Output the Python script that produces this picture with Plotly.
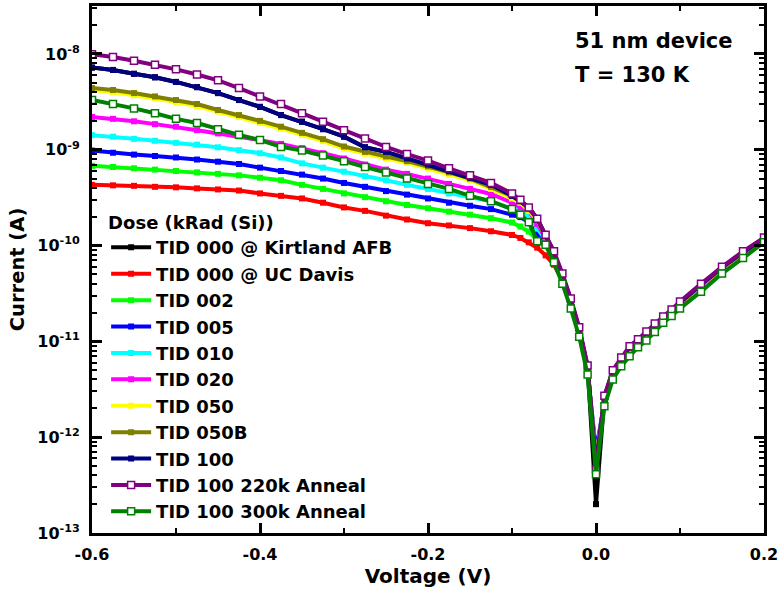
import plotly.graph_objects as go

voltage = [-0.6, -0.575, -0.55, -0.525, -0.5, -0.475, -0.45, -0.425, -0.4, -0.375,
           -0.35, -0.325, -0.3, -0.275, -0.25, -0.225, -0.2, -0.175, -0.15, -0.125,
           -0.1, -0.09, -0.08, -0.07, -0.06, -0.05, -0.04, -0.03, -0.02, -0.01,
           0.0, 0.01, 0.02, 0.03, 0.04, 0.05, 0.06, 0.07, 0.08, 0.09, 0.1,
           0.125, 0.15, 0.175, 0.2]

tid000_kirtland = [7.2e-9, 6.8e-9, 6.2e-9, 5.7e-9, 5.1e-9, 4.5e-9, 3.9e-9, 3.3e-9, 2.8e-9, 2.3e-9,
                   1.96e-9, 1.64e-9, 1.37e-9, 1.06e-9, 9.5e-10, 8.1e-10, 7.0e-10, 6.0e-10, 5.1e-10, 4.3e-10,
                   3.3e-10, 2.9e-10, 2.5e-10, 1.9e-10, 1.28e-10, 8.4e-11, 4.9e-11, 2.7e-11, 1.35e-11, 5.4e-12,
                   2.0e-13, 2.6e-12, 4.9e-12, 6.6e-12, 8.7e-12, 1.03e-11, 1.24e-11, 1.5e-11, 1.78e-11, 2.1e-11, 2.55e-11,
                   3.9e-11, 5.9e-11, 8.5e-11, 1.19e-10]
tid000_ucdavis = [4.3e-10, 4.25e-10, 4.2e-10, 4.1e-10, 4.05e-10, 3.95e-10, 3.85e-10, 3.75e-10, 3.5e-10, 3.3e-10,
                  3.1e-10, 2.8e-10, 2.5e-10, 2.3e-10, 2.05e-10, 1.87e-10, 1.71e-10, 1.62e-10, 1.52e-10, 1.41e-10,
                  1.29e-10, 1.2e-10, 1.08e-10, 9.5e-11, 7.9e-11, 6.3e-11, 4.3e-11, 2.5e-11, 1.19e-11, 4.75e-12,
                  6.0e-13, 2.3e-12, 4.3e-12, 5.9e-12, 7.6e-12, 9.2e-12, 1.1e-11, 1.35e-11, 1.63e-11, 1.92e-11, 2.3e-11,
                  3.5e-11, 5.3e-11, 7.7e-11, 1.1e-10]
tid002 = [6.8e-10, 6.6e-10, 6.4e-10, 6.2e-10, 6.0e-10, 5.8e-10, 5.6e-10, 5.4e-10, 5.1e-10, 4.8e-10,
          4.3e-10, 3.9e-10, 3.5e-10, 3.2e-10, 2.9e-10, 2.65e-10, 2.45e-10, 2.26e-10, 2.1e-10, 1.93e-10,
          1.74e-10, 1.58e-10, 1.4e-10, 1.13e-10, 1.0e-10, 7.0e-11, 4.3e-11, 2.4e-11, 1.2e-11, 4.8e-12,
          6.5e-13, 2.3e-12, 4.4e-12, 6.0e-12, 7.8e-12, 9.4e-12, 1.13e-11, 1.38e-11, 1.66e-11, 1.96e-11, 2.35e-11,
          3.6e-11, 5.45e-11, 7.9e-11, 1.12e-10]
tid005 = [9.8e-10, 9.3e-10, 8.9e-10, 8.6e-10, 8.3e-10, 7.9e-10, 7.5e-10, 7.1e-10, 6.5e-10, 6.0e-10,
          5.5e-10, 5.0e-10, 4.5e-10, 4.1e-10, 3.7e-10, 3.4e-10, 3.1e-10, 2.8e-10, 2.6e-10, 2.4e-10,
          2.1e-10, 1.98e-10, 1.75e-10, 1.33e-10, 1.1e-10, 7.2e-11, 4.4e-11, 2.45e-11, 1.22e-11, 4.9e-12,
          7.0e-13, 2.35e-12, 4.5e-12, 6.1e-12, 8.0e-12, 9.6e-12, 1.15e-11, 1.4e-11, 1.68e-11, 1.98e-11, 2.38e-11,
          3.65e-11, 5.5e-11, 8.0e-11, 1.13e-10]
tid010 = [1.42e-9, 1.37e-9, 1.30e-9, 1.24e-9, 1.18e-9, 1.13e-9, 1.06e-9, 9.9e-10, 9.2e-10, 8.3e-10,
          7.2e-10, 6.5e-10, 5.9e-10, 5.3e-10, 4.8e-10, 4.3e-10, 3.9e-10, 3.5e-10, 3.2e-10, 2.9e-10,
          2.4e-10, 2.26e-10, 2.0e-10, 1.5e-10, 1.15e-10, 7.5e-11, 4.5e-11, 2.5e-11, 1.25e-11, 5.0e-12,
          6.0e-13, 2.4e-12, 4.6e-12, 6.2e-12, 8.1e-12, 9.7e-12, 1.17e-11, 1.42e-11, 1.7e-11, 2.0e-11, 2.4e-11,
          3.7e-11, 5.6e-11, 8.1e-11, 1.14e-10]
tid020 = [2.2e-9, 2.1e-9, 1.98e-9, 1.85e-9, 1.74e-9, 1.6e-9, 1.48e-9, 1.38e-9, 1.26e-9, 1.15e-9,
          1.04e-9, 9.2e-10, 8.1e-10, 7.0e-10, 6.2e-10, 5.6e-10, 5.0e-10, 4.4e-10, 3.9e-10, 3.45e-10,
          2.8e-10, 2.5e-10, 2.3e-10, 1.68e-10, 1.2e-10, 7.8e-11, 4.6e-11, 2.55e-11, 1.28e-11, 5.1e-12,
          6.0e-13, 2.5e-12, 4.7e-12, 6.4e-12, 8.3e-12, 9.9e-12, 1.2e-11, 1.45e-11, 1.72e-11, 2.03e-11, 2.45e-11,
          3.75e-11, 5.7e-11, 8.2e-11, 1.15e-10]
tid050 = [4.2e-9, 4.0e-9, 3.7e-9, 3.45e-9, 3.15e-9, 2.85e-9, 2.5e-9, 2.2e-9, 1.9e-9, 1.66e-9,
          1.43e-9, 1.23e-9, 1.03e-9, 9.1e-10, 8.1e-10, 7.3e-10, 6.4e-10, 5.5e-10, 4.8e-10, 3.9e-10,
          3.1e-10, 2.8e-10, 2.3e-10, 1.85e-10, 1.25e-10, 8.0e-11, 4.7e-11, 2.6e-11, 1.3e-11, 5.2e-12,
          5.5e-13, 2.45e-12, 4.7e-12, 6.4e-12, 8.4e-12, 1.0e-11, 1.2e-11, 1.46e-11, 1.73e-11, 2.05e-11, 2.48e-11,
          3.8e-11, 5.75e-11, 8.3e-11, 1.16e-10]
tid050b = [4.4e-9, 4.2e-9, 3.9e-9, 3.6e-9, 3.3e-9, 3.0e-9, 2.6e-9, 2.3e-9, 2.0e-9, 1.74e-9,
           1.5e-9, 1.29e-9, 1.08e-9, 9.5e-10, 8.5e-10, 7.6e-10, 6.7e-10, 5.8e-10, 5.0e-10, 4.1e-10,
           3.3e-10, 2.9e-10, 2.4e-10, 1.9e-10, 1.27e-10, 8.2e-11, 4.8e-11, 2.65e-11, 1.32e-11, 5.3e-12,
           5.5e-13, 2.5e-12, 4.8e-12, 6.5e-12, 8.5e-12, 1.01e-11, 1.22e-11, 1.48e-11, 1.75e-11, 2.07e-11, 2.5e-11,
           3.85e-11, 5.8e-11, 8.4e-11, 1.17e-10]
tid100 = [7.2e-9, 6.8e-9, 6.2e-9, 5.7e-9, 5.1e-9, 4.5e-9, 3.9e-9, 3.3e-9, 2.8e-9, 2.3e-9,
          1.96e-9, 1.64e-9, 1.37e-9, 1.06e-9, 9.5e-10, 8.1e-10, 7.0e-10, 6.0e-10, 5.1e-10, 4.3e-10,
          3.3e-10, 2.9e-10, 2.5e-10, 1.9e-10, 1.28e-10, 8.4e-11, 4.9e-11, 2.7e-11, 1.35e-11, 5.4e-12,
          5.0e-13, 2.6e-12, 4.9e-12, 6.6e-12, 8.7e-12, 1.03e-11, 1.24e-11, 1.5e-11, 1.78e-11, 2.1e-11, 2.55e-11,
          3.9e-11, 5.9e-11, 8.5e-11, 1.19e-10]
tid100_220k = [9.9e-9, 9.3e-9, 8.5e-9, 7.7e-9, 6.9e-9, 6.1e-9, 5.3e-9, 4.4e-9, 3.6e-9, 3.0e-9,
               2.4e-9, 1.96e-9, 1.6e-9, 1.31e-9, 1.07e-9, 9.0e-10, 7.7e-10, 6.4e-10, 5.4e-10, 4.5e-10,
               3.5e-10, 3.0e-10, 2.5e-10, 1.9e-10, 1.3e-10, 8.7e-11, 5.1e-11, 2.8e-11, 1.4e-11, 5.6e-12,
               4.6e-13, 2.7e-12, 5.0e-12, 6.8e-12, 8.9e-12, 1.05e-11, 1.27e-11, 1.54e-11, 1.82e-11, 2.15e-11, 2.6e-11,
               4.0e-11, 6.0e-11, 8.7e-11, 1.21e-10]
tid100_300k = [3.3e-9, 3.0e-9, 2.7e-9, 2.4e-9, 2.1e-9, 1.9e-9, 1.64e-9, 1.43e-9, 1.26e-9, 1.07e-9,
               9.8e-10, 8.7e-10, 7.6e-10, 6.6e-10, 5.8e-10, 5.0e-10, 4.4e-10, 3.9e-10, 3.3e-10, 2.9e-10,
               2.4e-10, 2.1e-10, 1.75e-10, 1.11e-10, 1.02e-10, 6.7e-11, 4.0e-11, 2.2e-11, 1.12e-11, 4.5e-12,
               4.1e-13, 2.1e-12, 4.0e-12, 5.5e-12, 7.0e-12, 8.7e-12, 1.02e-11, 1.25e-11, 1.56e-11, 1.84e-11, 2.2e-11,
               3.3e-11, 5.1e-11, 7.4e-11, 1.08e-10]

series_names = ["TID 000 @ Kirtland AFB", "TID 000 @ UC Davis", "TID 002", "TID 005", "TID 010",
                "TID 020", "TID 050", "TID 050B", "TID 100", "TID 100 220k Anneal", "TID 100 300k Anneal"]
series_values = [tid000_kirtland, tid000_ucdavis, tid002, tid005, tid010, tid020, tid050, tid050b,
                 tid100, tid100_220k, tid100_300k]
series_colors = ["#000000", "#FF0000", "#00FF00", "#0000FF", "#00FFFF", "#FF00FF", "#FFFF00",
                 "#808000", "#000080", "#800080", "#008000"]
series_open = [False] * 9 + [True, True]

x_tick_vals = [-0.6, -0.4, -0.2, 0.0, 0.2]
x_tick_text = ["-0.6", "-0.4", "-0.2", "0.0", "0.2"]
y_tick_vals = [1e-13, 1e-12, 1e-11, 1e-10, 1e-9, 1e-8]
y_tick_text = ["10<sup>-13</sup>", "10<sup>-12</sup>", "10<sup>-11</sup>", "10<sup>-10</sup>",
               "10<sup>-9</sup>", "10<sup>-8</sup>"]

FONT = "DejaVu Sans"
X_RANGE = [-0.6, 0.2]
Y_RANGE = [-13, -7.5]


def bold(s):
    return "<b>" + s + "</b>"


fig = go.Figure()
for name, vals, col, is_open in zip(series_names, series_values, series_colors, series_open):
    if is_open:
        marker = dict(symbol="square", size=7, color="white", line=dict(color=col, width=1.5))
    else:
        marker = dict(symbol="square", size=6, color=col, line=dict(width=0))
    fig.add_trace(go.Scatter(x=voltage, y=vals, name=bold(name), mode="lines+markers",
                             line=dict(color=col, width=4), marker=marker))

axis_common = dict(showline=True, linewidth=3, linecolor="#000000", mirror="allticks",
                   ticks="inside", ticklen=10, tickwidth=2.5, tickcolor="#000000", automargin=False)
minor_common = dict(ticks="inside", ticklen=5, tickwidth=2, tickcolor="#000000")

fig.update_layout(
    width=779, height=595,
    margin=dict(l=92, r=15, t=6, b=62),
    paper_bgcolor="white", plot_bgcolor="white",
    font=dict(family=FONT, size=16, color="black"),
    xaxis=dict(range=X_RANGE, tickvals=x_tick_vals, ticktext=[bold(t) for t in x_tick_text],
               tickfont=dict(size=16, family=FONT, color="black"),
               minor=dict(dtick=0.1, **minor_common),
               title=dict(text=bold("Voltage (V)"), font=dict(size=20, family=FONT, color="black"), standoff=6),
               ticklabelstandoff=5,
               **axis_common),
    yaxis=dict(type="log", range=Y_RANGE, tickvals=y_tick_vals, ticktext=[bold(t) for t in y_tick_text],
               tickfont=dict(size=16, family=FONT, color="black"),
               minor=dict(dtick="D1", **minor_common),
               title=dict(text=bold("Current (A)"), font=dict(size=19.5, family=FONT, color="black"), standoff=8),
               ticklabelstandoff=6,
               **axis_common),
    legend=dict(x=0.021, y=0.621, xanchor="left", yanchor="top",
                bgcolor="rgba(0,0,0,0)", borderwidth=0,
                font=dict(size=18, family=FONT, color="black"),
                itemwidth=40,
                title=dict(text=bold("Dose (kRad (Si))"), font=dict(size=18, family=FONT, color="black"))),
    showlegend=True,
)

fig.add_annotation(xref="paper", yref="paper", x=0.716, y=0.934, xanchor="left", yanchor="middle",
                   text=bold("51 nm device"), showarrow=False, font=dict(size=21, family=FONT, color="black"))
fig.add_annotation(xref="paper", yref="paper", x=0.716, y=0.869, xanchor="left", yanchor="middle",
                   text=bold("T = 130 K"), showarrow=False, font=dict(size=21, family=FONT, color="black"))

fig.write_html("out.html")
